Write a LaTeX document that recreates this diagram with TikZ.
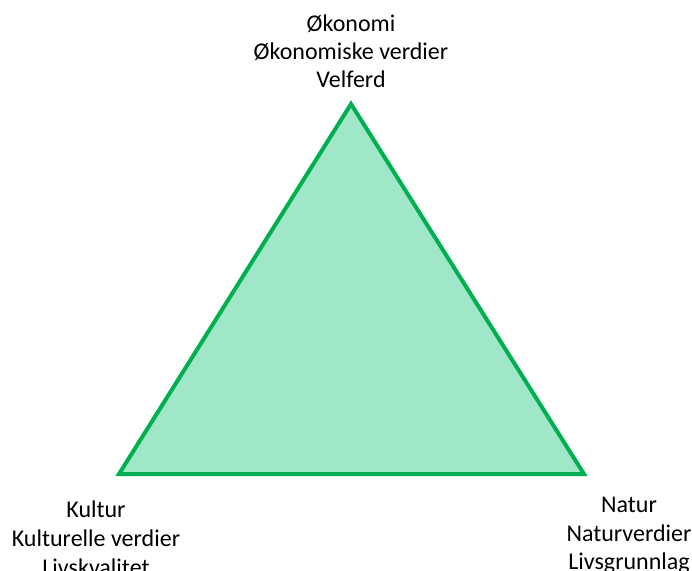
\documentclass[tikz,border=0pt]{standalone}
\usepackage{fontspec}
\setmainfont{Carlito}
\definecolor{trifill}{HTML}{9FE7C6}
\definecolor{triline}{HTML}{00B050}
\begin{document}
\begin{tikzpicture}[x=1pt,y=-1pt,
  lbl/.style={align=center,inner sep=0pt,anchor=base,font=\fontsize{24}{28}\selectfont},
  tri/.style={fill=trifill,draw=triline,line width=4pt,line join=miter}]
\useasboundingbox (0,0) rectangle (692,570);
\coordinate (T) at (351,104);
\coordinate (L) at (119,474);
\coordinate (R) at (584,474);
\draw[tri] (T) -- (L) -- (R) -- cycle;
\node[lbl] (top) at (351,31) {Økonomi};
\node[lbl] (top2) at (351,59) {Økonomiske verdier};
\node[lbl] (top3) at (351,87) {Velferd};
\node[lbl] (left) at (96,517) {Kultur};
\node[lbl] (left2) at (96,546) {Kulturelle verdier};
\node[lbl] (left3) at (96,575) {Livskvalitet};
\node[lbl] (right) at (629,512) {Natur};
\node[lbl] (right2) at (629,541) {Naturverdier};
\node[lbl] (right3) at (629,569) {Livsgrunnlag};
\end{tikzpicture}
\end{document}
